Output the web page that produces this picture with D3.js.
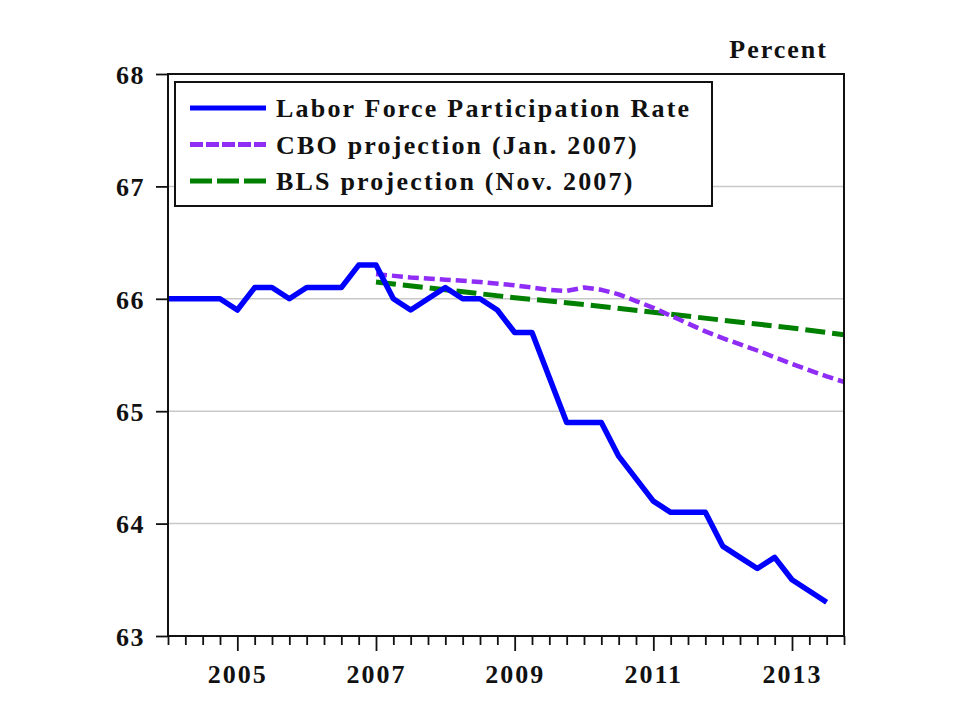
<!DOCTYPE html>
<html>
<head>
<meta charset="utf-8">
<script src="https://cdn.jsdelivr.net/npm/d3@7/dist/d3.min.js"></script>
<style>
  html, body { margin: 0; padding: 0; background: #fff; }
  svg text { font-family: "Liberation Serif", "Times New Roman", Times, serif; font-weight: bold; fill: #111; }
</style>
</head>
<body>
<div id="chart"></div>
<script>
// ---- Data ----
const lfprQuarters = [
  "2004Q1","2004Q2","2004Q3","2004Q4",
  "2005Q1","2005Q2","2005Q3","2005Q4",
  "2006Q1","2006Q2","2006Q3","2006Q4",
  "2007Q1","2007Q2","2007Q3","2007Q4",
  "2008Q1","2008Q2","2008Q3","2008Q4",
  "2009Q1","2009Q2","2009Q3","2009Q4",
  "2010Q1","2010Q2","2010Q3","2010Q4",
  "2011Q1","2011Q2","2011Q3","2011Q4",
  "2012Q1","2012Q2","2012Q3","2012Q4",
  "2013Q1","2013Q2","2013Q3"
];
const lfprValues = [
  66.0, 66.0, 66.0, 66.0,
  65.9, 66.1, 66.1, 66.0,
  66.1, 66.1, 66.1, 66.3,
  66.3, 66.0, 65.9, 66.0,
  66.1, 66.0, 66.0, 65.9,
  65.7, 65.7, 65.3, 64.9,
  64.9, 64.9, 64.6, 64.4,
  64.2, 64.1, 64.1, 64.1,
  63.8, 63.7, 63.6, 63.7,
  63.5, 63.4, 63.3
];
const cboQuarters = [
  "2007Q1","2007Q3","2008Q1","2008Q3","2009Q1","2009Q3","2009Q4",
  "2010Q1","2010Q2","2010Q3","2010Q4","2011Q1","2011Q2","2011Q3","2011Q4",
  "2012Q1","2012Q3","2013Q1","2013Q3","2013Q4"
];
const cboValues = [
  66.22, 66.19, 66.17, 66.15, 66.12, 66.08, 66.07,
  66.10, 66.08, 66.04, 65.98, 65.92, 65.85, 65.78, 65.71,
  65.65, 65.54, 65.42, 65.31, 65.26
];
const blsQuarters = ["2007Q1","2008Q1","2009Q1","2010Q1","2011Q1","2012Q1","2013Q1","2013Q4"];
const blsValues   = [66.15, 66.08, 66.01, 65.95, 65.88, 65.81, 65.74, 65.68];

const yTicks = [63, 64, 65, 66, 67, 68];
const gridValues = [64, 65, 66, 67];
const xLabelYears = [2005, 2007, 2009, 2011, 2013];
const legendLabels = ["Labor Force Participation Rate", "CBO projection (Jan. 2007)", "BLS projection (Nov. 2007)"];
const unitLabel = "Percent";

// ---- Helpers ----
function qToYear(q) {
  const y = +q.slice(0, 4), n = +q.slice(5);
  return y + (n - 1) / 4;
}
const series = [
  { name: legendLabels[0], pts: lfprQuarters.map((q, i) => [qToYear(q), lfprValues[i]]), color: "#0000ff", width: 5.5, dash: null, lgDash: null },
  { name: legendLabels[1], pts: cboQuarters.map((q, i) => [qToYear(q), cboValues[i]]), color: "#8f2cf5", width: 4.5, dash: "11,5", lgDash: "13,3" },
  { name: legendLabels[2], pts: blsQuarters.map((q, i) => [qToYear(q), blsValues[i]]), color: "#008000", width: 5, dash: "20,7", lgDash: "22,5" }
];

// ---- Layout ----
const W = 960, H = 720;
const L = 168, R = 844, T = 74, B = 636;

const svg = d3.select("#chart").append("svg").attr("width", W).attr("height", H);

const x = d3.scaleLinear().domain([2004, 2013.75]).range([L, R]);
const y = d3.scaleLinear().domain([63, 68]).range([B, T]);

// Gridlines
svg.append("g").selectAll("line").data(gridValues).join("line")
  .attr("x1", L).attr("x2", R)
  .attr("y1", d => y(d)).attr("y2", d => y(d))
  .attr("stroke", "#c8c8c8").attr("stroke-width", 1.5);

// Clip for lines
svg.append("clipPath").attr("id", "clip").append("rect")
  .attr("x", L).attr("y", T).attr("width", R - L).attr("height", B - T);

const line = d3.line().x(d => x(d[0])).y(d => y(d[1]));
svg.append("g").attr("clip-path", "url(#clip)")
  .selectAll("path").data(series.slice().reverse()).join("path")
  .attr("d", d => line(d.pts))
  .attr("fill", "none")
  .attr("stroke", d => d.color)
  .attr("stroke-width", d => d.width)
  .attr("stroke-linejoin", "round")
  .attr("stroke-dasharray", d => d.dash);

// Frame
svg.append("rect").attr("x", L).attr("y", T).attr("width", R - L).attr("height", B - T)
  .attr("fill", "none").attr("stroke", "#111").attr("stroke-width", 2);

// Y axis
const yAxis = d3.axisLeft(y).tickValues(yTicks).tickSize(12).tickPadding(11).tickFormat(d3.format("d"));
const gy = svg.append("g").attr("transform", `translate(${L},0)`).call(yAxis);
gy.select(".domain").remove();
gy.selectAll(".tick line").attr("stroke", "#111").attr("stroke-width", 1.8);
gy.selectAll(".tick text").attr("font-size", 26).attr("letter-spacing", 1.5).attr("fill", "#111")
  .attr("dy", "0.36em");

// X axis: quarterly minor ticks, long ticks at labelled years
const quarterTicks = d3.range(0, 40).map(i => 2004 + i / 4);
const minorTicks = quarterTicks.filter(t => !xLabelYears.includes(t));
const gxMinor = svg.append("g").attr("transform", `translate(0,${B})`)
  .call(d3.axisBottom(x).tickValues(minorTicks).tickSize(9).tickFormat(""));
gxMinor.select(".domain").remove();
gxMinor.selectAll(".tick line").attr("stroke", "#111").attr("stroke-width", 1.8);

const gxMajor = svg.append("g").attr("transform", `translate(0,${B})`)
  .call(d3.axisBottom(x).tickValues(xLabelYears).tickSize(15).tickPadding(14).tickFormat(d3.format("d")));
gxMajor.select(".domain").remove();
gxMajor.selectAll(".tick line").attr("stroke", "#111").attr("stroke-width", 1.8);
gxMajor.selectAll(".tick text").attr("font-size", 26).attr("letter-spacing", 2).attr("fill", "#111")
  .attr("dy", "0.71em");

// Unit label
svg.append("text").attr("x", 828).attr("y", 58).attr("text-anchor", "end")
  .attr("font-size", 26).attr("letter-spacing", 2).text(unitLabel);

// Legend
const lg = svg.append("g");
lg.append("rect").attr("x", 175).attr("y", 82).attr("width", 537).attr("height", 124)
  .attr("fill", "#fff").attr("stroke", "#111").attr("stroke-width", 2);
const rowY = [108, 144.5, 181];
const rows = lg.selectAll("g.row").data(series).join("g").attr("class", "row")
  .attr("transform", (d, i) => `translate(0,${rowY[i]})`);
rows.append("line").attr("x1", 190).attr("x2", 266).attr("y1", 0).attr("y2", 0)
  .attr("stroke", d => d.color).attr("stroke-width", 5)
  .attr("stroke-dasharray", d => d.lgDash);
rows.append("text").attr("x", 276).attr("y", 9).attr("font-size", 26).attr("letter-spacing", 2.2)
  .text(d => d.name);
</script>
</body>
</html>
